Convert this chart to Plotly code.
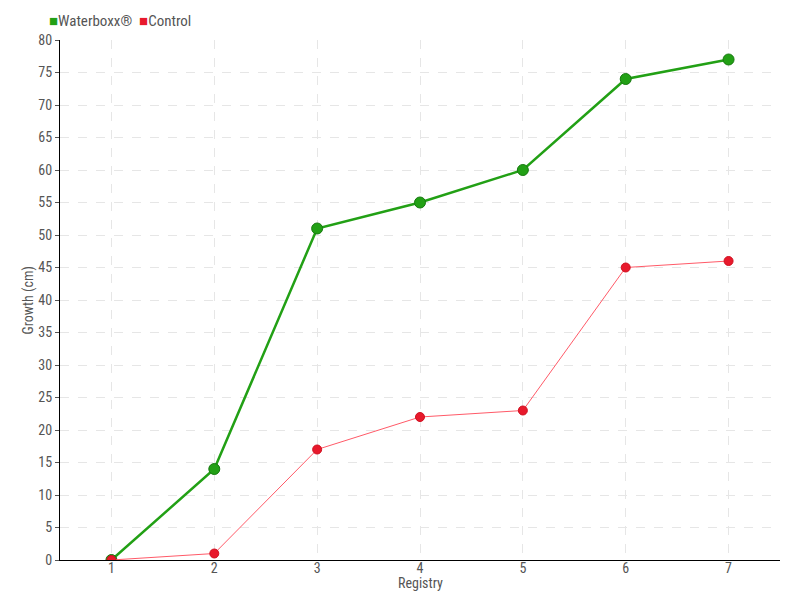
import plotly.graph_objects as go

registry = ["1", "2", "3", "4", "5", "6", "7"]
waterboxx = [0, 14, 51, 55, 60, 74, 77]
control = [0, 1, 17, 22, 23, 45, 46]
y_ticks = list(range(0, 85, 5))

FONT = "Roboto Condensed, Liberation Sans Narrow, Roboto, sans-serif"
GREEN = "#22a015"
RED = "#e8192c"

fig = go.Figure()
fig.add_trace(go.Scatter(
    x=registry, y=waterboxx, mode="lines+markers", name="Waterboxx®",
    line=dict(color=GREEN, width=2.5),
    marker=dict(size=11, color=GREEN, line=dict(color="#177a10", width=1)),
    showlegend=False))
fig.add_trace(go.Scatter(
    x=registry, y=control, mode="lines+markers", name="Control",
    line=dict(color="#ff5a68", width=1),
    marker=dict(size=9, color=RED, line=dict(color="#d01020", width=1)),
    showlegend=False))

legend_text = (f"<span style='color:{GREEN}'>■</span>Waterboxx®&nbsp; "
               f"<span style='color:{RED}'>■</span>Control")

fig.update_layout(
    width=800, height=600,
    margin=dict(l=52, r=28, t=32, b=48),
    paper_bgcolor="white", plot_bgcolor="white",
    font=dict(family=FONT, size=14, color="#555555"),
    showlegend=False,
    annotations=[
        dict(text=legend_text, xref="paper", yref="paper",
             x=-0.018, y=1.015, xanchor="left", yanchor="bottom",
             showarrow=False, font=dict(size=15, color="#555555")),
        dict(text="Growth (cm)", xref="paper", yref="paper",
             x=-0.045, y=0.5, xanchor="center", yanchor="middle",
             textangle=-90, showarrow=False, font=dict(size=14, color="#555555")),
        dict(text="Registry", xref="paper", yref="paper",
             x=0.5, y=-0.044, xanchor="center", yanchor="middle",
             showarrow=False, font=dict(size=14, color="#555555")),
    ],
)
fig.update_xaxes(
    type="category", range=[-0.5, 6.5], automargin=False,
    showline=True, linecolor="black", linewidth=1,
    showgrid=True, gridcolor="#e6e6e6", griddash="dash", gridwidth=1,
    ticks="", ticklabelstandoff=-5, zeroline=False,
)
fig.update_yaxes(
    range=[0, 80], tickvals=y_ticks, automargin=False,
    showline=True, linecolor="black", linewidth=1,
    showgrid=True, gridcolor="#e6e6e6", griddash="dash", gridwidth=1,
    ticks="outside", ticklen=4, tickcolor="#555555",
    zeroline=False,
)

fig.write_html("out.html")
